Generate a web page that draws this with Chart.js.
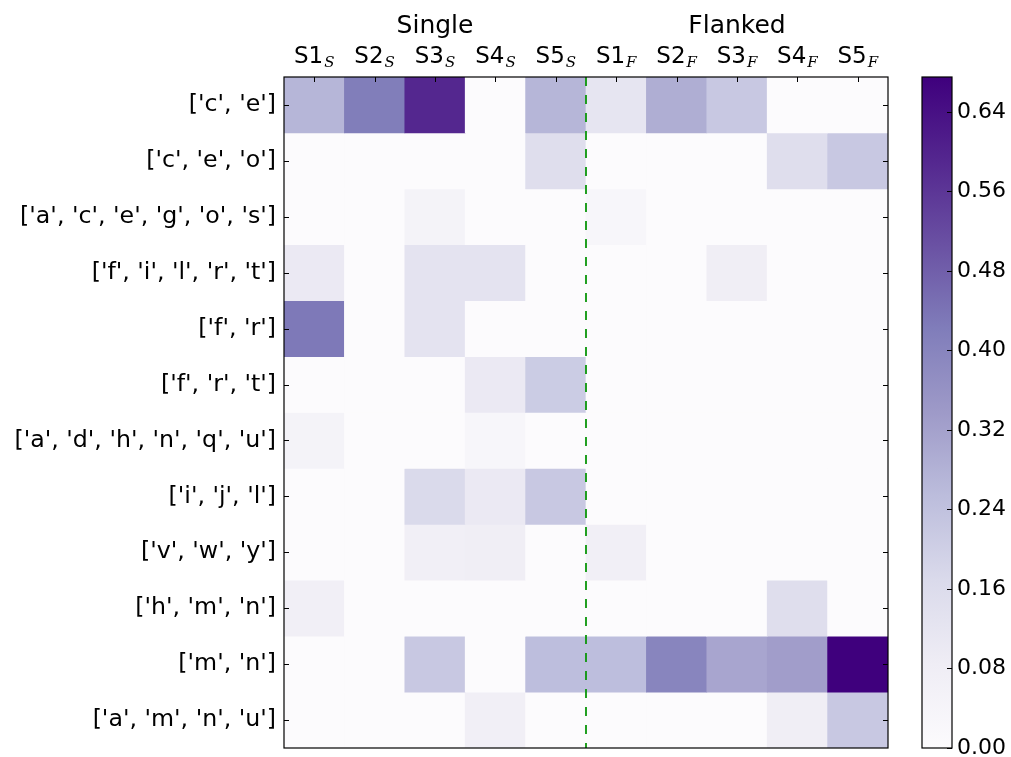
<!DOCTYPE html>
<html>
<head>
<meta charset="utf-8">
<script src="https://cdn.jsdelivr.net/npm/chart.js@4.4.1/dist/chart.umd.min.js"></script>
<style>
  html, body { margin: 0; padding: 0; background: #fff; }
  #wrap { position: relative; width: 1011px; height: 757px; }
  #mainBox { position: absolute; left: 0; top: 0; width: 1011px; height: 757px; }
  #barBox { position: absolute; left: 900px; top: 0; width: 111px; height: 757px; }
</style>
</head>
<body>
<div id="wrap">
  <div id="mainBox"><canvas id="heatmap"></canvas></div>
  <div id="barBox"><canvas id="colorbar"></canvas></div>
</div>
<script>
// heatmap of letter groups vs. subjects, single vs flanked

const rowLabels = [
  "['c', 'e']",
  "['c', 'e', 'o']",
  "['a', 'c', 'e', 'g', 'o', 's']",
  "['f', 'i', 'l', 'r', 't']",
  "['f', 'r']",
  "['f', 'r', 't']",
  "['a', 'd', 'h', 'n', 'q', 'u']",
  "['i', 'j', 'l']",
  "['v', 'w', 'y']",
  "['h', 'm', 'n']",
  "['m', 'n']",
  "['a', 'm', 'n', 'u']",
];

const colNames = ["S1", "S2", "S3", "S4", "S5", "S1", "S2", "S3", "S4", "S5"];
const colSubs = ["S", "S", "S", "S", "S", "F", "F", "F", "F", "F"];
const groupTitles = ["Single", "Flanked"];

// one array per column, rows top to bottom
const s1S = [0.27, 0, 0, 0.10, 0.43, 0, 0.05, 0, 0, 0.07, 0, 0];
const s2S = [0.42, 0, 0, 0, 0, 0, 0, 0, 0, 0, 0, 0];
const s3S = [0.59, 0, 0.05, 0.13, 0.13, 0, 0, 0.17, 0.07, 0, 0.22, 0];
const s4S = [0, 0, 0, 0.13, 0, 0.10, 0.03, 0.10, 0.08, 0, 0, 0.07];
const s5S = [0.27, 0.15, 0, 0, 0, 0.21, 0, 0.22, 0, 0, 0.25, 0];
const s1F = [0.12, 0, 0.03, 0, 0, 0, 0, 0, 0.07, 0, 0.25, 0];
const s2F = [0.29, 0, 0, 0, 0, 0, 0, 0, 0, 0, 0.40, 0];
const s3F = [0.22, 0, 0, 0.08, 0, 0, 0, 0, 0, 0, 0.31, 0];
const s4F = [0, 0.15, 0, 0, 0, 0, 0, 0, 0, 0.15, 0.33, 0.08];
const s5F = [0, 0.22, 0, 0, 0, 0, 0, 0, 0, 0, 0.675, 0.22];

const columns = [s1S, s2S, s3S, s4S, s5S, s1F, s2F, s3F, s4F, s5F];

const vmax = 0.675;
const cbarTicks = [0, 0.08, 0.16, 0.24, 0.32, 0.40, 0.48, 0.56, 0.64];

// matplotlib "Purples"
const purples = ["#fcfbfd", "#efedf5", "#dadaeb", "#bcbddc", "#9e9ac8", "#807dba", "#6a51a3", "#54278f", "#3f007d"];

function hexToRgb(h) {
  return [parseInt(h.slice(1, 3), 16), parseInt(h.slice(3, 5), 16), parseInt(h.slice(5, 7), 16)];
}

function purpleAt(v) {
  let t = Math.max(0, Math.min(1, v / vmax)) * (purples.length - 1);
  const i = Math.min(Math.floor(t), purples.length - 2);
  const f = t - i;
  const a = hexToRgb(purples[i]);
  const b = hexToRgb(purples[i + 1]);
  const c = a.map((x, k) => Math.round(x + (b[k] - x) * f));
  return `rgb(${c[0]}, ${c[1]}, ${c[2]})`;
}

Chart.defaults.font.family = "'DejaVu Sans', sans-serif";
Chart.defaults.color = "#000";

const datasets = rowLabels.map((lab, r) => ({
  label: lab,
  data: columns.map(() => [r - 0.5, r + 0.5]),
  backgroundColor: columns.map((col) => purpleAt(col[r])),
  borderWidth: 0,
  barPercentage: 1,
  categoryPercentage: 1,
  grouped: false,
}));

const heatDecor = {
  id: "heatDecor",
  afterDatasetsDraw(chart) {
    const { ctx, chartArea: a, scales } = chart;
    const xs = scales.x;
    const ys = scales.y;
    ctx.save();

    // dashed separator between single and flanked
    const sepX = (xs.getPixelForValue(4) + xs.getPixelForValue(5)) / 2;
    ctx.strokeStyle = "#0a960a";
    ctx.lineWidth = 1.8;
    ctx.setLineDash([9, 9]);
    ctx.beginPath();
    ctx.moveTo(sepX, a.top);
    ctx.lineTo(sepX, a.bottom);
    ctx.stroke();
    ctx.setLineDash([]);

    // frame
    ctx.strokeStyle = "#000";
    ctx.lineWidth = 1.2;
    ctx.strokeRect(a.left, a.top, a.right - a.left, a.bottom - a.top);

    // inward ticks
    ctx.lineWidth = 1;
    ctx.beginPath();
    colNames.forEach((_, i) => {
      const x = Math.round(xs.getPixelForValue(i)) + 0.5;
      ctx.moveTo(x, a.top);
      ctx.lineTo(x, a.top + 5);
    });
    rowLabels.forEach((_, r) => {
      const y = Math.round(ys.getPixelForValue(r)) + 0.5;
      ctx.moveTo(a.left, y);
      ctx.lineTo(a.left + 5, y);
      ctx.moveTo(a.right, y);
      ctx.lineTo(a.right - 5, y);
    });
    ctx.stroke();

    // column labels with subscripts
    ctx.fillStyle = "#000";
    ctx.textBaseline = "alphabetic";
    ctx.textAlign = "left";
    const mainFont = "23px 'DejaVu Sans'";
    const subFont = "italic 15px 'DejaVu Serif'";
    colNames.forEach((name, i) => {
      ctx.font = mainFont;
      const w1 = ctx.measureText(name).width;
      ctx.font = subFont;
      const w2 = ctx.measureText(colSubs[i]).width;
      const x0 = xs.getPixelForValue(i) - (w1 + 1 + w2) / 2;
      ctx.font = mainFont;
      ctx.fillText(name, x0, 63);
      ctx.font = subFont;
      ctx.fillText(colSubs[i], x0 + w1 + 1, 67);
    });

    // group titles
    ctx.font = "25px 'DejaVu Sans'";
    ctx.textAlign = "center";
    ctx.fillText(groupTitles[0], xs.getPixelForValue(2), 33);
    ctx.fillText(groupTitles[1], xs.getPixelForValue(7), 33);
    ctx.restore();
  },
};

new Chart(document.getElementById("heatmap"), {
  type: "bar",
  data: { labels: colNames.map((n, i) => n + colSubs[i]), datasets },
  options: {
    responsive: true,
    maintainAspectRatio: false,
    animation: false,
    events: [],
    layout: { padding: { left: 0, top: 0, right: 123, bottom: 9 } },
    plugins: { legend: { display: false }, tooltip: { enabled: false } },
    scales: {
      x: {
        type: "category",
        position: "top",
        grid: { display: false, drawTicks: false },
        border: { display: false },
        ticks: { display: false },
        afterFit: (s) => { s.height = 77; },
      },
      y: {
        type: "linear",
        reverse: true,
        min: -0.5,
        max: 11.5,
        grid: { display: false, drawTicks: false },
        border: { display: false },
        afterBuildTicks: (s) => { s.ticks = rowLabels.map((_, i) => ({ value: i })); },
        afterFit: (s) => { s.width = 284; s.paddingTop = 0; s.paddingBottom = 0; },
        ticks: {
          padding: 8,
          font: { size: 23.7 },
          color: "#000",
          callback: (v) => rowLabels[v],
        },
      },
    },
  },
  plugins: [heatDecor],
});

// colorbar
const cbarDecor = {
  id: "cbarDecor",
  afterDatasetsDraw(chart) {
    const { ctx, chartArea: a, scales } = chart;
    ctx.save();
    ctx.strokeStyle = "#000";
    ctx.lineWidth = 1.2;
    ctx.strokeRect(a.left, a.top, a.right - a.left, a.bottom - a.top);
    ctx.lineWidth = 1;
    ctx.beginPath();
    cbarTicks.forEach((t) => {
      const y = Math.round(scales.y.getPixelForValue(t)) + 0.5;
      ctx.moveTo(a.right, y);
      ctx.lineTo(a.right - 5, y);
    });
    ctx.stroke();
    ctx.restore();
  },
};

new Chart(document.getElementById("colorbar"), {
  type: "bar",
  data: {
    labels: [""],
    datasets: [{
      data: [[0, vmax]],
      barPercentage: 1,
      categoryPercentage: 1,
      borderWidth: 0,
      backgroundColor: (c) => {
        const { chart } = c;
        const ys = chart.scales.y;
        if (!chart.chartArea || !ys) return purples[4];
        const g = chart.ctx.createLinearGradient(0, ys.getPixelForValue(0), 0, ys.getPixelForValue(vmax));
        purples.forEach((col, i) => g.addColorStop(i / (purples.length - 1), col));
        return g;
      },
    }],
  },
  options: {
    responsive: true,
    maintainAspectRatio: false,
    animation: false,
    events: [],
    layout: { padding: { left: 22, top: 77, right: 0, bottom: 9 } },
    plugins: { legend: { display: false }, tooltip: { enabled: false } },
    scales: {
      x: { display: false },
      y: {
        position: "right",
        min: 0,
        max: vmax,
        grid: { display: false, drawTicks: false },
        border: { display: false },
        afterBuildTicks: (s) => { s.ticks = cbarTicks.map((v) => ({ value: v })); },
        afterFit: (s) => { s.width = 59; s.paddingTop = 0; s.paddingBottom = 0; },
        ticks: {
          padding: 5,
          font: { size: 22 },
          color: "#000",
          callback: (v) => Number(v).toFixed(2),
        },
      },
    },
  },
  plugins: [cbarDecor],
});
</script>
</body>
</html>
